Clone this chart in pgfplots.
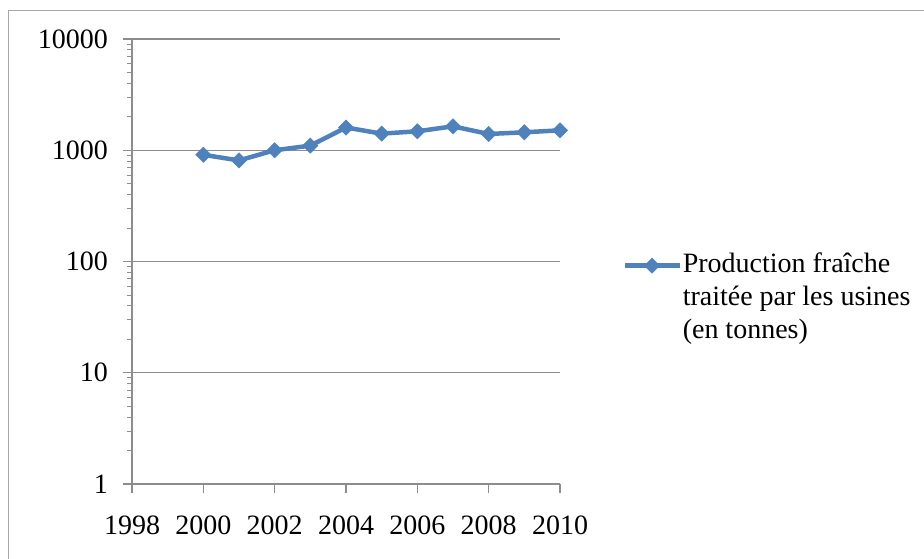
\documentclass[border=0pt]{standalone}
\usepackage{fontspec}
\setmainfont{Liberation Serif}
\usepackage{pgfplots}
\pgfplotsset{compat=1.18}
\definecolor{serieblue}{HTML}{4F81BD}
\definecolor{gridgray}{HTML}{8C8C8C}
\definecolor{framegray}{HTML}{A8A8A8}
\begin{document}
\fontsize{28bp}{33bp}\selectfont
\begin{tikzpicture}
\useasboundingbox (0,0) rectangle (924bp,559bp);
\draw[framegray, line width=1.2bp] (8.5bp,0bp) -- (8.5bp,548.5bp) -- (924bp,548.5bp);
\begin{axis}[
  at={(132bp,75bp)}, anchor=south west,
  scale only axis, width=428bp, height=445bp,
  ymode=log, ymin=1, ymax=10000,
  xmin=1998, xmax=2010,
  xtick={1998,2000,...,2010},
  xticklabels={1998,2000,2002,2004,2006,2008,2010},
  ytick={1,10,100,1000,10000},
  yticklabels={1,10,100,1000,10000},
  axis lines*=left,
  axis line style={gridgray, line width=1.2bp},
  ymajorgrids, grid style={gridgray, line width=1.2bp},
  tick align=outside,
  major tick length=9bp, minor tick length=5bp,
  tick style={gridgray, line width=1.1bp},
  minor tick style={gridgray, line width=0.8bp},
  xticklabel style={inner sep=0pt, anchor=north, yshift=-23bp},
  yticklabel style={inner sep=0pt, anchor=east, xshift=-15bp},
  tick label style={font=\fontsize{28bp}{33bp}\selectfont},
  clip=false,
  legend style={at={(1.145,0.528)}, anchor=north west, draw=none, fill=none,
    inner sep=0pt, font=\fontsize{28bp}{33bp}\selectfont,
    nodes={inner sep=0pt, text height=23bp, text depth=10bp}, column sep=1bp, row sep=0pt},
  legend cell align=left,
  legend image code/.code={\draw[#1, mark repeat=2, mark phase=2] plot coordinates {(0bp,0bp) (27.5bp,0bp) (55bp,0bp)};},
]
\addplot[serieblue, line width=4.5bp, mark=square*, mark size=5.4bp,
  mark options={rotate=45, solid, line width=0.5bp, fill=serieblue}]
  coordinates {
  (2000,910) (2001,810) (2002,1000) (2003,1100) (2004,1600)
  (2005,1410) (2006,1480) (2007,1640) (2008,1400) (2009,1450) (2010,1510)
  };
\addlegendentry{Production fraîche}
\addlegendimage{empty legend}
\addlegendentry{traitée par les usines}
\addlegendimage{empty legend}
\addlegendentry{(en tonnes)}
\end{axis}
\end{tikzpicture}
\end{document}
